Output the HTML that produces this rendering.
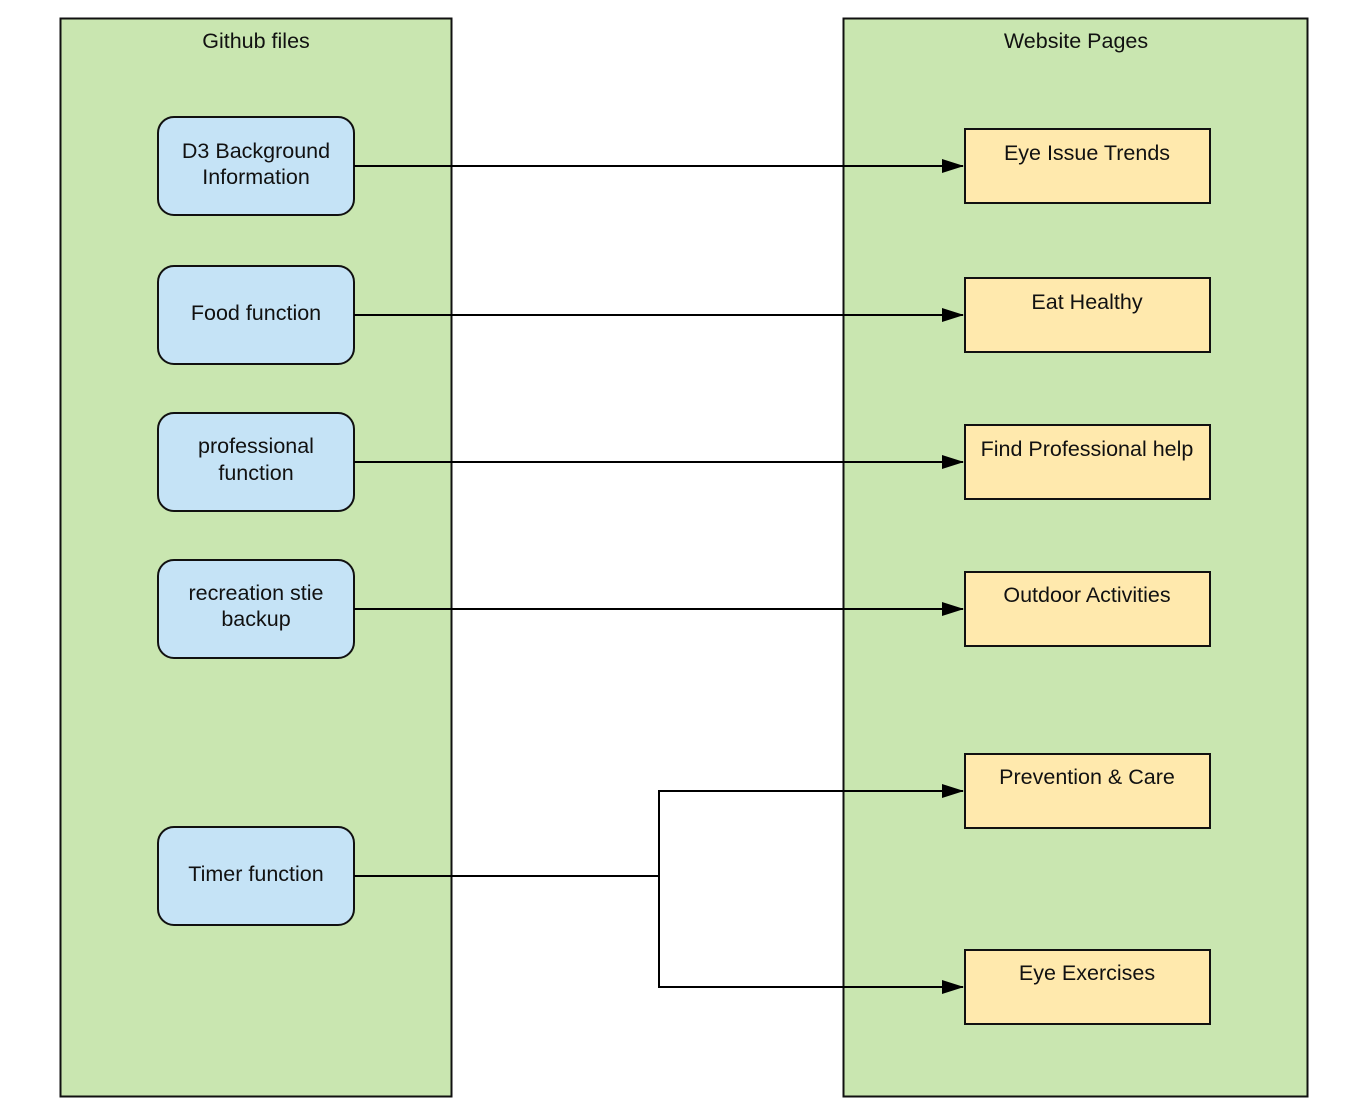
<!DOCTYPE html>
<html><head><style>body{margin:0;background:#fff}svg{display:block}text{font-family:"Liberation Sans",sans-serif;font-size:21.5px;fill:#111}</style></head>
<body>
<svg width="1354" height="1118" viewBox="0 0 1354 1118">
<defs><marker id="a" markerWidth="22" markerHeight="14" refX="21" refY="7" orient="auto" markerUnits="userSpaceOnUse"><path d="M0,0 L22,7 L0,14 Z" fill="#000"/></marker></defs>
<rect x="60.5" y="18.5" width="391" height="1078" fill="#c9e6b0" stroke="#111" stroke-width="2"/>
<rect x="843.5" y="18.5" width="464" height="1078" fill="#c9e6b0" stroke="#111" stroke-width="2"/>
<text x="256" y="48" text-anchor="middle">Github files</text>
<text x="1076" y="48" text-anchor="middle">Website Pages</text>
<g fill="#c5e3f6" stroke="#111" stroke-width="2">
<rect x="158" y="117" width="196" height="98" rx="16"/>
<rect x="158" y="266" width="196" height="98" rx="16"/>
<rect x="158" y="413" width="196" height="98" rx="16"/>
<rect x="158" y="560" width="196" height="98" rx="16"/>
<rect x="158" y="827" width="196" height="98" rx="16"/>
</g>
<g fill="#ffe9ad" stroke="#111" stroke-width="2">
<rect x="965" y="129" width="245" height="74"/>
<rect x="965" y="278" width="245" height="74"/>
<rect x="965" y="425" width="245" height="74"/>
<rect x="965" y="572" width="245" height="74"/>
<rect x="965" y="754" width="245" height="74"/>
<rect x="965" y="950" width="245" height="74"/>
</g>
<g text-anchor="middle">
<text x="256" y="158">D3 Background</text><text x="256" y="184">Information</text>
<text x="256" y="320">Food function</text>
<text x="256" y="453">professional</text><text x="256" y="480">function</text>
<text x="256" y="600">recreation stie</text><text x="256" y="626">backup</text>
<text x="256" y="881">Timer function</text>
<text x="1087" y="160">Eye Issue Trends</text>
<text x="1087" y="309">Eat Healthy</text>
<text x="1087" y="456">Find Professional help</text>
<text x="1087" y="602">Outdoor Activities</text>
<text x="1087" y="784">Prevention &amp; Care</text>
<text x="1087" y="980">Eye Exercises</text>
</g>
<g stroke="#000" stroke-width="2" fill="none" marker-end="url(#a)">
<path d="M354,166 H963"/>
<path d="M354,315 H963"/>
<path d="M354,462 H963"/>
<path d="M354,609 H963"/>
<path d="M354,876 H659 V791 H963"/>
<path d="M659,876 V987 H963"/>
</g>
</svg>
</body></html>
